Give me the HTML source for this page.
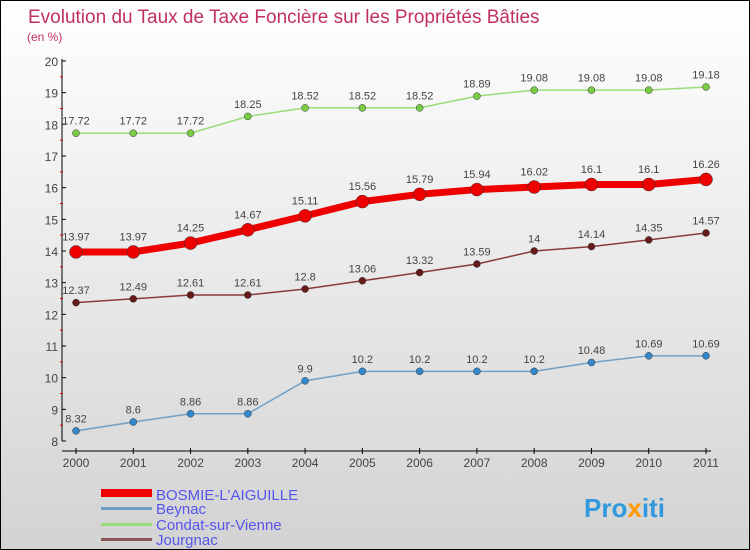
<!DOCTYPE html>
<html><head><meta charset="utf-8">
<style>
body{margin:0}
#c{width:748px;height:548px;border:1px solid #000;background:linear-gradient(#fff,#d3d3d3);position:relative;font-family:"Liberation Sans",sans-serif;overflow:hidden}
svg{position:absolute;left:0;top:0}
</style></head><body>
<div id="c">
<svg id="s" width="750" height="550">
<text x="27" y="22" font-size="19" fill="#c03060">Evolution du Taux de Taxe Foncière sur les Propriétés Bâties</text>
<text x="26" y="40" font-size="12" fill="#c03060">(en %)</text>
<g id="ax"></g><g id="plot"></g>
<g>
<rect x="100" y="488" width="51" height="8" fill="#e00"/>
<text x="155" y="499" font-size="15" fill="#5555ee">BOSMIE-L'AIGUILLE</text>
<rect x="100" y="506" width="51" height="3" fill="#6fa0c8"/>
<text x="155" y="513" font-size="15" fill="#5555ee">Beynac</text>
<rect x="100" y="522" width="51" height="3" fill="#99dd77"/>
<text x="155" y="529" font-size="15" fill="#5555ee">Condat-sur-Vienne</text>
<rect x="100" y="537" width="51" height="3" fill="#8a5555"/>
<text x="155" y="544" font-size="15" fill="#5555ee">Jourgnac</text>
</g>
<text x="583" y="516" font-size="26" font-weight="bold" fill="#3399dd">Pro<tspan fill="#ff9900">x</tspan>iti</text>
</svg></div>
<script>
const years=[2000,2001,2002,2003,2004,2005,2006,2007,2008,2009,2010,2011];
const bosmie=[13.97,13.97,14.25,14.67,15.11,15.56,15.79,15.94,16.02,16.1,16.1,16.26];
const beynac=[8.32,8.6,8.86,8.86,9.9,10.2,10.2,10.2,10.2,10.48,10.69,10.69];
const condat=[17.72,17.72,17.72,18.25,18.52,18.52,18.52,18.89,19.08,19.08,19.08,19.18];
const jourgnac=[12.37,12.49,12.61,12.61,12.8,13.06,13.32,13.59,14,14.14,14.35,14.57];
const yTicks=[8,9,10,11,12,13,14,15,16,17,18,19,20];
const NS="http://www.w3.org/2000/svg";
const X=i=>75+i*(630/11);
const Y=v=>440-(v-8)*(380/12);
function el(t,a,p){const e=document.createElementNS(NS,t);for(const k in a)e.setAttribute(k,a[k]);p.appendChild(e);return e;}
const ax=document.getElementById('ax'),plot=document.getElementById('plot');
let l=el('line',{x1:61,y1:58,x2:61,y2:440,stroke:'#000'},ax);


l=el('line',{x1:61,y1:450,x2:710,y2:450,stroke:'#000'},ax);


yTicks.forEach(v=>{
 el('line',{x1:61,y1:Y(v),x2:65,y2:Y(v),stroke:'#000'},ax);
 if(v<20) el('line',{x1:59,y1:Y(v+0.5),x2:62,y2:Y(v+0.5),stroke:'#d00'},ax);
 const t=el('text',{x:57,y:Y(v)+5,'font-size':12,'text-anchor':'end',fill:'#444'},ax);
 t.textContent=v;
 
 
});
years.forEach((y,i)=>{
 el('line',{x1:X(i),y1:447,x2:X(i),y2:453,stroke:'#000'},ax);
 const t=el('text',{x:X(i),y:466,'font-size':12,'text-anchor':'middle',fill:'#444'},ax);
 t.textContent=y;
 
 
});
function series(d,name,col,dot,w,r){
 const p=el('polyline',{points:d.map((v,i)=>X(i)+','+Y(v)).join(' '),fill:'none',stroke:col,'stroke-width':w},plot);
 
 
 d.forEach((v,i)=>{
  const c=el('circle',{cx:X(i),cy:Y(v),r:r,fill:dot,stroke:'#333','stroke-width':0.5},plot);
  
  
  const t=el('text',{x:X(i),y:Y(v)-(r+5),'font-size':11,'text-anchor':'middle',fill:'#444'},plot);
  t.textContent=v;
  
  
 });
}
series(condat,'condat','#99dd77','#77cc44',1.5,3.5);
series(jourgnac,'jourgnac','#8a3a3a','#661a1a',1.5,3.5);
series(beynac,'beynac','#6fa0c8','#3388cc',1.5,3.5);
series(bosmie,'bosmie','#ee0000','#ee0000',7,6.5);
</script>
</body></html>
